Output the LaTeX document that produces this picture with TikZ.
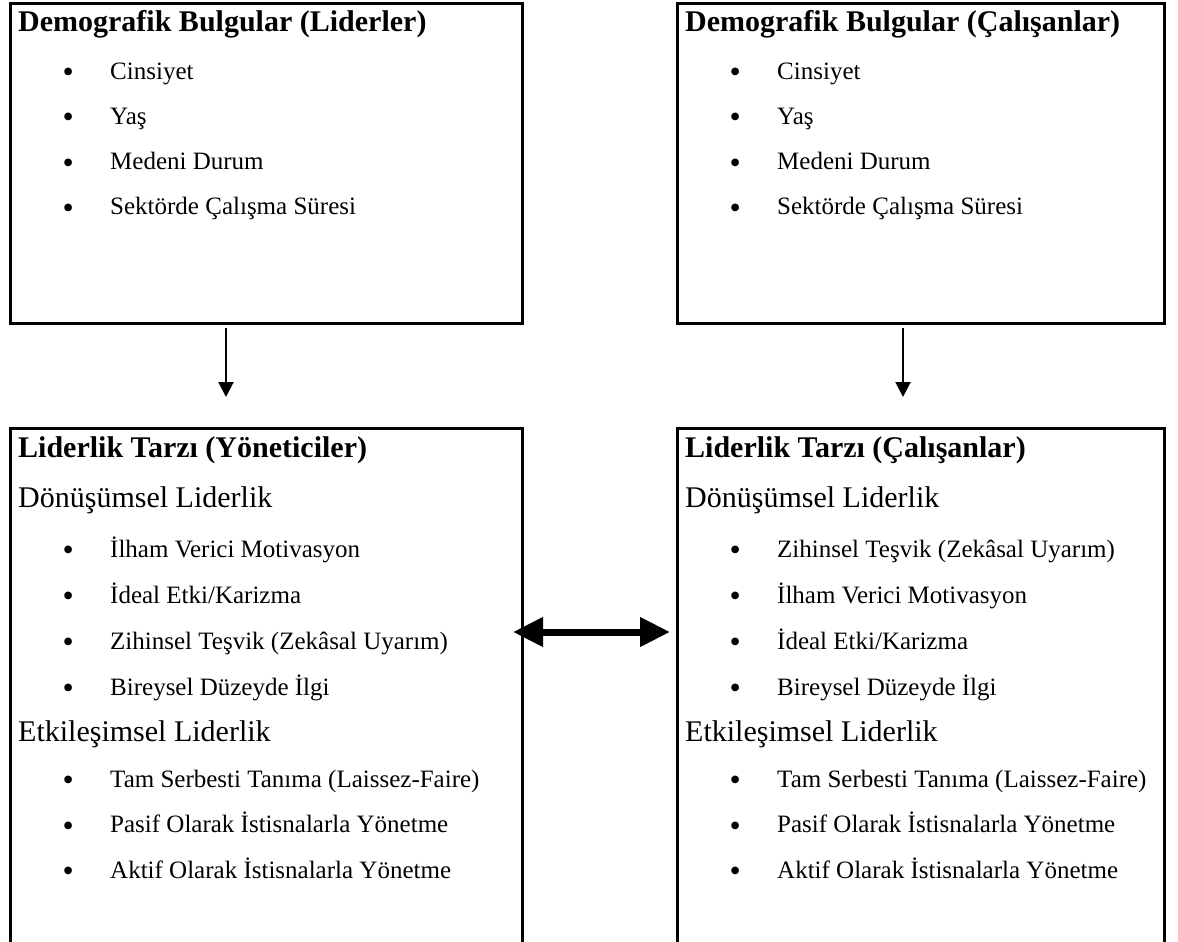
\documentclass[tikz,border=0pt]{standalone}
\usepackage{fontspec}
\setmainfont{Liberation Serif}
\usetikzlibrary{arrows.meta}

\tikzset{
  frame/.style={draw,line width=3pt,outer sep=0pt,inner sep=0pt,anchor=north west},
  head/.style={font=\fontsize{30}{36}\selectfont\bfseries,anchor=base west,inner sep=0pt},
  sub/.style={font=\fontsize{30}{36}\selectfont,anchor=base west,inner sep=0pt},
  item/.style={font=\fontsize{25}{30}\selectfont,anchor=base west,inner sep=0pt},
  bul/.style={font=\fontsize{32}{36}\selectfont,anchor=base west,inner sep=0pt,yshift=-3.5pt},
  flow/.style={line width=2pt,-{Triangle[length=15pt,width=15pt]}},
  link/.style={line width=7pt,{Triangle[length=30pt,width=28pt]}-{Triangle[length=30pt,width=28pt]}}
}

\begin{document}
\begin{tikzpicture}[x=1pt,y=-1pt]
\useasboundingbox (0,0) rectangle (1178,942);
\clip (0,0) rectangle (1178,942);
% demografik kutular
\node[frame,minimum width=512pt,minimum height=319pt] (demL) at (10,4) {};
\node[frame,minimum width=487pt,minimum height=319pt] (demR) at (677,4) {};
\node[head] (demLh) at (18,32) {Demografik Bulgular (Liderler)};
\node[head] (demRh) at (685,32) {Demografik Bulgular (Çalışanlar)};
\foreach \t [count=\i] in {Cinsiyet,Yaş,Medeni Durum,Sektörde Çalışma Süresi}{
  \pgfmathsetmacro\yy{79+45.3*(\i-1)}
  \node[bul] (demLb\i) at (62.5,\yy) {•}; \node[item] (demLt\i) at (110,\yy) {\t};
  \node[bul] (demRb\i) at (729.5,\yy) {•}; \node[item] (demRt\i) at (777,\yy) {\t};
}
% liderlik kutulari (alt kenar sayfa disinda)
\node[frame,minimum width=512pt,minimum height=540pt] (ldrL) at (10,428) {};
\node[frame,minimum width=487pt,minimum height=540pt] (ldrR) at (677,428) {};
\node[head] (ldrLh) at (18,457) {Liderlik Tarzı (Yöneticiler)};
\node[head] (ldrRh) at (685,457) {Liderlik Tarzı (Çalışanlar)};
\node[sub] (ldrLd) at (18,507) {Dönüşümsel Liderlik};
\node[sub] (ldrRd) at (685,507) {Dönüşümsel Liderlik};
\foreach \t [count=\i] in {İlham Verici Motivasyon,İdeal Etki/Karizma,Zihinsel Teşvik (Zekâsal Uyarım),Bireysel Düzeyde İlgi}{
  \pgfmathsetmacro\yy{557+46*(\i-1)}
  \node[bul] (ldrLb\i) at (62.5,\yy) {•}; \node[item] (ldrLt\i) at (110,\yy) {\t};
}
\foreach \t [count=\i] in {Zihinsel Teşvik (Zekâsal Uyarım),İlham Verici Motivasyon,İdeal Etki/Karizma,Bireysel Düzeyde İlgi}{
  \pgfmathsetmacro\yy{557+46*(\i-1)}
  \node[bul] (ldrRb\i) at (729.5,\yy) {•}; \node[item] (ldrRt\i) at (777,\yy) {\t};
}
\node[sub] (ldrLe) at (18,741) {Etkileşimsel Liderlik};
\node[sub] (ldrRe) at (685,741) {Etkileşimsel Liderlik};
\foreach \t [count=\i] in {Tam Serbesti Tanıma (Laissez-Faire),Pasif Olarak İstisnalarla Yönetme,Aktif Olarak İstisnalarla Yönetme}{
  \pgfmathsetmacro\yy{787+45.5*(\i-1)}
  \node[bul] (etkLb\i) at (62.5,\yy) {•}; \node[item] (etkLt\i) at (110,\yy) {\t};
  \node[bul] (etkRb\i) at (729.5,\yy) {•}; \node[item] (etkRt\i) at (777,\yy) {\t};
}
% oklar
\coordinate (aLs) at (226,328); \coordinate (aLe) at (226,397);
\coordinate (aRs) at (903,328); \coordinate (aRe) at (903,397);
\draw[flow] (aLs) -- (aLe);
\draw[flow] (aRs) -- (aRe);
\coordinate (bL) at (513,632); \coordinate (bR) at (670,632);
\draw[link] (bL) -- (bR);
\end{tikzpicture}
\end{document}
